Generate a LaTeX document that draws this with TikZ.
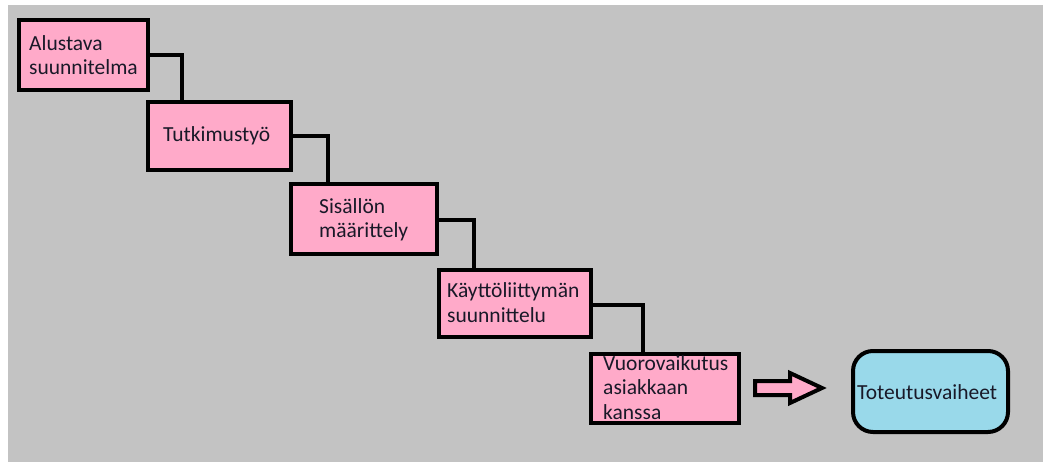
\documentclass[tikz,border=0pt]{standalone}
\usepackage{fontspec}
\setmainfont{Carlito}
\definecolor{canvas}{RGB}{195,195,195}
\definecolor{stagepink}{RGB}{255,170,201}
\definecolor{finalblue}{RGB}{153,217,234}
\definecolor{inkdark}{RGB}{25,25,40}
\tikzset{
  stagebox/.style={draw=black, fill=stagepink, line width=4pt, inner sep=0pt, outer sep=0pt, anchor=north west},
  finalbox/.style={draw=black, fill=finalblue, line width=4pt, rounded corners=20pt, inner sep=0pt, outer sep=0pt, anchor=north west},
  stagetext/.style={anchor=base west, inner sep=0pt, align=left, text=inkdark, font=\fontsize{21.5}{24.5}\selectfont},
  link/.style={draw=black, line width=3.5pt},
}
\begin{document}
\begin{tikzpicture}[x=1pt, y=-1pt]
  % canvas
  \useasboundingbox (0,0) rectangle (1043,462);
  \fill[white] (0,0) rectangle (1043,462);
  \fill[canvas] (8,5) rectangle (1043,462);

  % stage boxes
  \node[stagebox, minimum width=129pt, minimum height=70pt] (b1) at (19,20) {};
  \node[stagebox, minimum width=143pt, minimum height=68pt] (b2) at (148,102) {};
  \node[stagebox, minimum width=146pt, minimum height=70pt] (b3) at (291,184) {};
  \node[stagebox, minimum width=152pt, minimum height=67pt] (b4) at (439,270) {};
  \node[stagebox, minimum width=148pt, minimum height=69pt] (b5) at (591,354) {};
  \node[finalbox, minimum width=155pt, minimum height=81pt] (fin) at (853,351) {};

  % step connectors
  \draw[link] (b1.east) -| ([xshift=34pt]b2.north west);
  \draw[link] (b2.east) -| ([xshift=37pt]b3.north west);
  \draw[link] ([yshift=-1pt]b3.east) -| ([xshift=35pt]b4.north west);
  \draw[link] ([yshift=-1.5pt]b4.east) -| ([xshift=52pt]b5.north west);

  % redraw box outlines over connector ends
  \foreach \b in {b1,b2,b3,b4,b5}
    \draw[line width=4pt] (\b.north west) rectangle (\b.south east);

  % block arrow towards the final stage
  \draw[line width=4pt, fill=stagepink, line join=miter]
    (755,381) -- (790,381) -- (790,373) -- (822,388) -- (790,403) -- (790,395) -- (755,395) -- cycle;

  % labels (anchored at the baseline of the last line)
  \node[stagetext] (t1) at (29,75) {Alustava\\suunnitelma};
  \node[stagetext] (t2) at (163,142) {Tutkimustyö};
  \node[stagetext] (t3) at (319,238) {Sisällön\\määrittely};
  \node[stagetext] (t4) at (447,322) {Käyttöliittymän\\suunnittelu};
  \node[stagetext] (t5) at (603,419) {Vuorovaikutus\\asiakkaan\\kanssa};
  \node[stagetext] (t6) at (857,399) {Toteutusvaiheet};
\end{tikzpicture}
\end{document}
